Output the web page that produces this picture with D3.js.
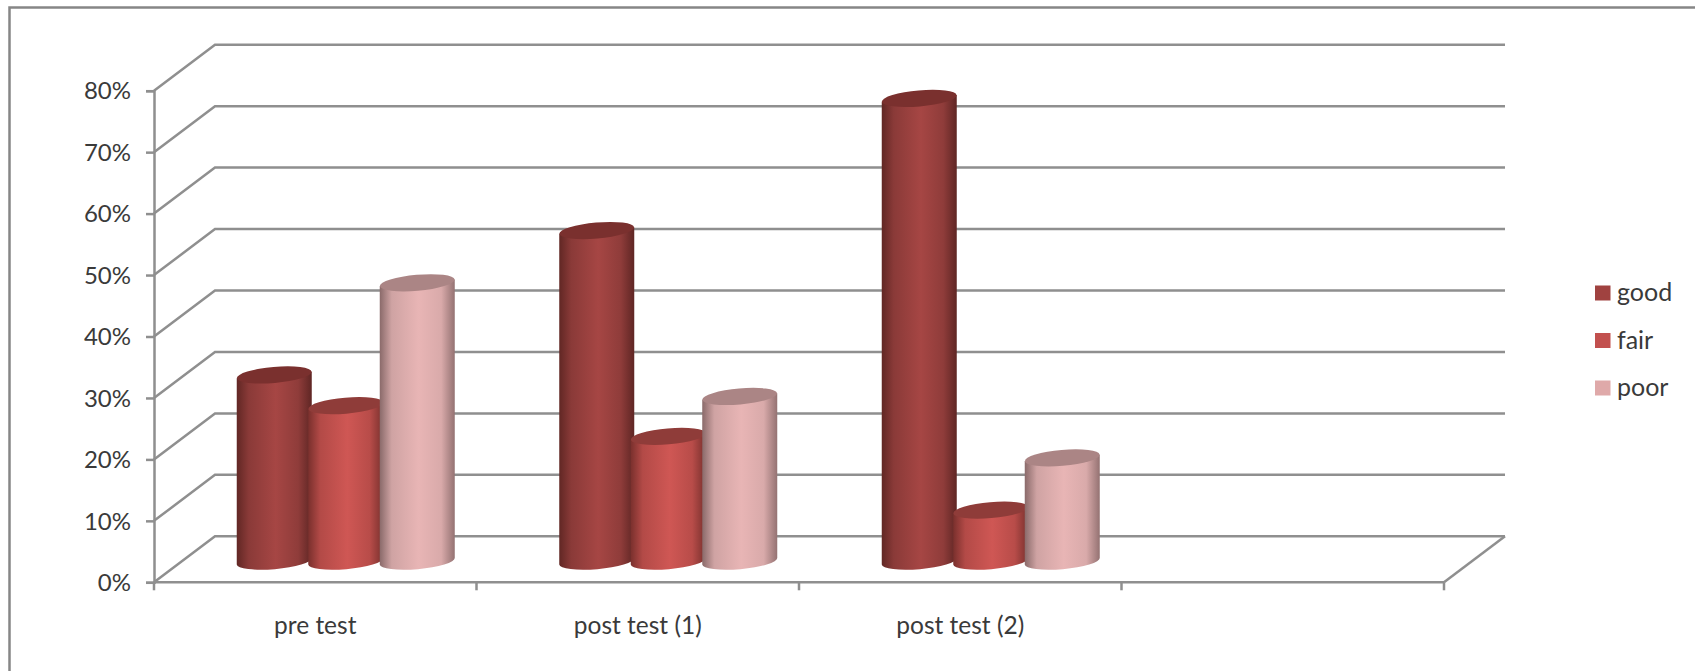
<!DOCTYPE html>
<html>
<head>
<meta charset="utf-8">
<script src="https://cdn.jsdelivr.net/npm/d3@7"></script>
<style>
  html, body { margin: 0; padding: 0; background: #fff; }
  svg { display: block; font-family: Lato, "Open Sans", sans-serif; }
  text { fill: #3a3a3a; }
</style>
</head>
<body>
<svg id="chart" width="1695" height="671"></svg>
<script>
// Chart data
const categories = ["pre test", "post test (1)", "post test (2)", ""];
const seriesNames = ["good", "fair", "poor"];
const good = [30.3, 53.8, 75.3, null];
const fair = [25.3, 20.3, 8.3, null];
const poor = [45.3, 26.8, 16.8, null];
const yTicks = [0, 10, 20, 30, 40, 50, 60, 70, 80];

// Colours per series: gradient stops across the cylinder, cap and legend swatch
const sideStops = [
  ["#612724", "#8a3a38", "#a64644", "#8f3c3a", "#5f2624"],
  ["#7a302d", "#b34a47", "#cf5754", "#b84c49", "#78302d"],
  ["#8a6a6a", "#cfa3a3", "#e8b5b5", "#d9aaaa", "#947272"]
];
const capColours = ["#7a302e", "#8f3c39", "#ab8585"];
const swatchColours = ["#a04240", "#c2504e", "#dfa9a9"];
const stopOffsets = ["0%", "16%", "52%", "82%", "100%"];

const svg = d3.select("#chart");

// Plot box: the front plane plus the shift to the back wall
const frontLeft = 154, frontRight = 1444;
const depthX = 61, depthY = 46;
const barDepthX = 0.5, barDepthY = 0.46;   // how far back the cylinders stand
const barWidth = 75, barPitch = 71.5;
const capRy = 8, capTilt = -5;

const y = d3.scaleLinear().domain([0, 80]).range([582.3, 90.7]);
const x = d3.scaleBand().domain(categories).range([frontLeft, frontRight]);
const xSeries = d3.scalePoint().domain(seriesNames)
  .range([-barPitch, barPitch]);

// Outer frame, open towards the right and bottom edges
svg.append("path")
  .attr("d", d3.line()([[9.5, 671], [9.5, 7.5], [1695, 7.5]]))
  .attr("fill", "none").attr("stroke", "#868686").attr("stroke-width", 2.5);

// Cylinder shading
const defs = svg.append("defs");
seriesNames.forEach((name, i) => {
  const g = defs.append("linearGradient")
    .attr("id", "side-" + name)
    .attr("x1", "0%").attr("x2", "100%").attr("y1", "0%").attr("y2", "0%");
  sideStops[i].forEach((c, k) => {
    g.append("stop").attr("offset", stopOffsets[k]).attr("stop-color", c);
  });
});

// Gridlines on the back wall and their slanted returns on the side wall
const gridColour = "#8f8f8f";
const gridWidth = 2.5;
const grid = svg.append("g").attr("fill", "none")
  .attr("stroke", gridColour).attr("stroke-width", gridWidth);
yTicks.forEach(t => {
  grid.append("path").attr("d", d3.line()([
    [frontLeft, y(t)],
    [frontLeft + depthX, y(t) - depthY],
    [frontRight + depthX, y(t) - depthY]
  ]));
});
// Floor edge at the right
grid.append("path").attr("d", d3.line()([
  [frontRight, y(0)],
  [frontRight + depthX, y(0) - depthY]
]));

// Value axis
const yAxis = svg.append("g")
  .attr("transform", `translate(${frontLeft},0)`)
  .call(d3.axisLeft(y).tickValues(yTicks).tickSize(8).tickPadding(15)
    .tickFormat(d => d + "%"));
yAxis.selectAll("path").attr("stroke", gridColour).attr("stroke-width", gridWidth);
yAxis.selectAll("line").attr("stroke", gridColour).attr("stroke-width", gridWidth);
yAxis.selectAll("text").attr("font-size", 24).attr("font-family", "Lato")
  .attr("fill", "#3a3a3a").attr("dy", "0.34em");

// Category axis: ticks sit on the band boundaries
const boundaries = categories.map(c => x(c)).concat([frontRight]);
const xAxis = svg.append("g");
xAxis.append("line")
  .attr("x1", frontLeft).attr("x2", frontRight)
  .attr("y1", y(0)).attr("y2", y(0))
  .attr("stroke", gridColour).attr("stroke-width", gridWidth);
xAxis.selectAll("line.tick").data(boundaries).join("line")
  .attr("class", "tick")
  .attr("x1", d => d).attr("x2", d => d)
  .attr("y1", y(0)).attr("y2", y(0) + 8)
  .attr("stroke", gridColour).attr("stroke-width", gridWidth);
xAxis.selectAll("text").data(categories).join("text")
  .attr("x", d => x(d) + x.bandwidth() / 2)
  .attr("y", 634)
  .attr("text-anchor", "middle")
  .attr("font-size", 24.5)
  .text(d => d);

// Cylinders, drawn series by series so later ones overlap earlier ones
const values = [good, fair, poor];
const rx = barWidth / 2;
const tiltRad = capTilt * Math.PI / 180;
const endDy = rx * Math.sin(tiltRad);

seriesNames.forEach((name, i) => {
  const g = svg.append("g");
  categories.forEach((cat, j) => {
    const v = values[i][j];
    if (v == null) return;
    const cx = x(cat) + x.bandwidth() / 2 + barDepthX * depthX + xSeries(name);
    const yBase = y(0) - barDepthY * depthY;
    const yTop = y(v) - barDepthY * depthY;
    g.append("path")
      .attr("d",
        `M${cx - rx},${yTop - endDy}` +
        `L${cx - rx},${yBase - endDy}` +
        `A${rx},${capRy} ${capTilt} 0 0 ${cx + rx},${yBase + endDy}` +
        `L${cx + rx},${yTop + endDy}Z`)
      .attr("fill", `url(#side-${name})`);
    g.append("ellipse")
      .attr("cx", cx).attr("cy", yTop)
      .attr("rx", rx).attr("ry", capRy)
      .attr("transform", `rotate(${capTilt} ${cx} ${yTop})`)
      .attr("fill", capColours[i]);
  });
});

// Legend
const legendY = d3.scalePoint().domain(seriesNames).range([293, 388]);
const legend = svg.append("g");
seriesNames.forEach((name, i) => {
  legend.append("rect")
    .attr("x", 1595).attr("y", legendY(name) - 7.5)
    .attr("width", 15.5).attr("height", 15)
    .attr("fill", swatchColours[i]);
  legend.append("text")
    .attr("x", 1617).attr("y", legendY(name) + 8)
    .attr("font-size", 25)
    .text(name);
});
</script>
</body>
</html>
